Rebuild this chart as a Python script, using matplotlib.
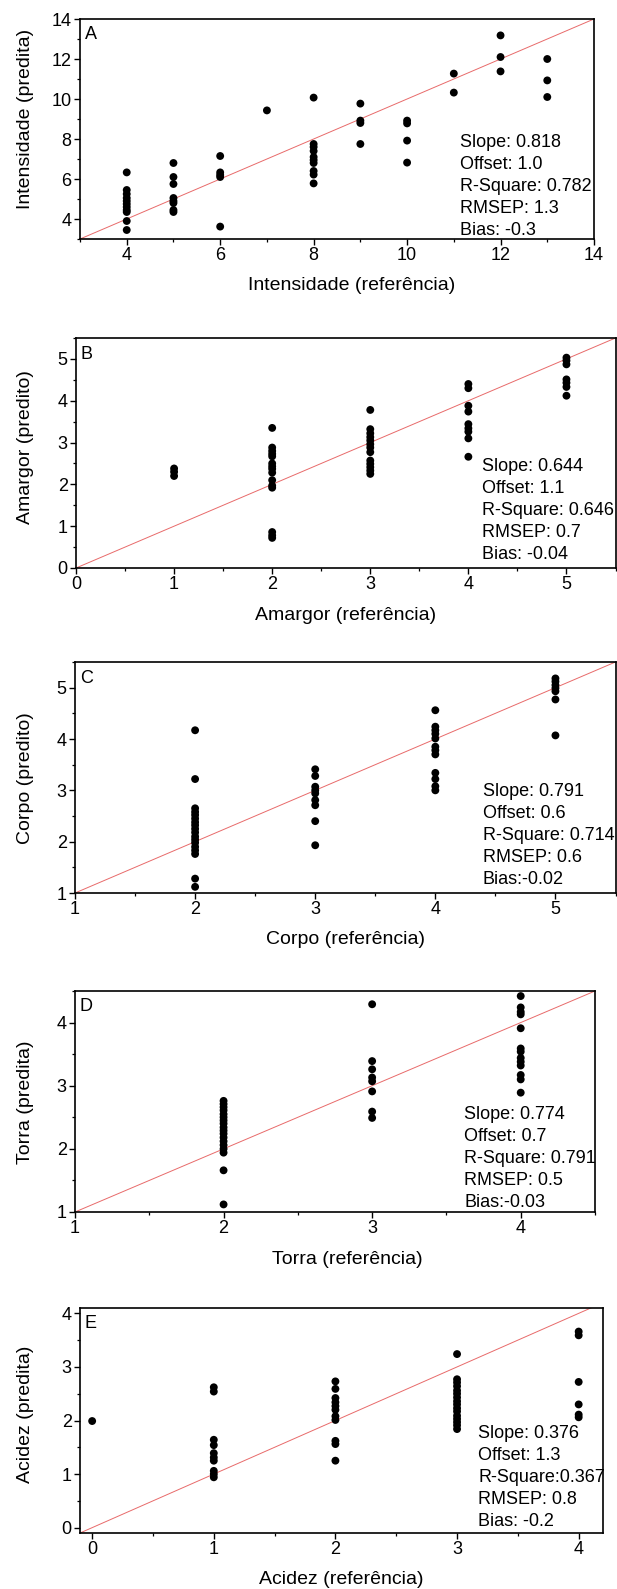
import matplotlib
matplotlib.use('Agg')
import matplotlib.pyplot as plt
from matplotlib.ticker import MultipleLocator

plt.rcParams['font.family'] = ['Liberation Sans', 'DejaVu Sans']

# A - Intensidade
a_levels = [4, 5, 6, 7, 8, 9, 10, 11, 12, 13]
a_pred = [[6.33, 5.45, 5.25, 5.05, 4.9, 4.75, 4.6, 4.45, 4.35, 3.9, 3.45],
          [6.8, 6.1, 5.75, 5.05, 4.9, 4.8, 4.45, 4.35],
          [7.15, 6.33, 6.2, 6.1, 3.62],
          [9.43],
          [10.07, 7.75, 7.6, 7.4, 7.1, 6.95, 6.8, 6.4, 6.22, 5.78],
          [9.77, 8.92, 8.8, 7.75],
          [8.92, 8.78, 7.92, 6.82],
          [11.27, 10.32],
          [13.18, 12.1, 11.38],
          [12.0, 10.93, 10.1]]
a_stats = ['Slope: 0.818', 'Offset: 1.0', 'R-Square: 0.782', 'RMSEP: 1.3', 'Bias: -0.3']

# B - Amargor
b_levels = [1, 2, 3, 4, 5]
b_pred = [[2.38, 2.3, 2.2],
          [3.35, 2.88, 2.8, 2.73, 2.67, 2.5, 2.43, 2.37, 2.28, 2.1, 1.97, 1.92, 0.86, 0.78, 0.72],
          [3.78, 3.32, 3.22, 3.13, 3.05, 2.96, 2.88, 2.77, 2.57, 2.49, 2.41, 2.33, 2.25],
          [4.4, 4.3, 3.88, 3.74, 3.44, 3.34, 3.26, 3.1, 2.66],
          [5.03, 4.96, 4.87, 4.51, 4.43, 4.33, 4.12]]
b_stats = ['Slope: 0.644', 'Offset: 1.1', 'R-Square: 0.646', 'RMSEP: 0.7', 'Bias: -0.04']

# C - Corpo
c_levels = [2, 3, 4, 5]
c_pred = [[4.17, 3.22, 2.65, 2.58, 2.52, 2.45, 2.38, 2.32, 2.25, 2.18, 2.1, 2.04, 1.98, 1.9, 1.83, 1.76, 1.28, 1.12],
          [3.41, 3.28, 3.07, 3.0, 2.94, 2.81, 2.71, 2.4, 1.93],
          [4.56, 4.24, 4.17, 4.1, 4.01, 3.85, 3.78, 3.7, 3.34, 3.22, 3.08, 3.0],
          [5.18, 5.12, 5.05, 4.99, 4.93, 4.77, 4.07]]
c_stats = ['Slope: 0.791', 'Offset: 0.6', 'R-Square: 0.714', 'RMSEP: 0.6', 'Bias:-0.02']

# D - Torra
d_levels = [2, 3, 4]
d_pred = [[2.76, 2.71, 2.66, 2.61, 2.55, 2.5, 2.45, 2.4, 2.34, 2.29, 2.24, 2.18, 2.12, 2.06, 2.0, 1.94, 1.66, 1.12],
          [4.29, 3.39, 3.26, 3.13, 3.07, 2.91, 2.59, 2.49],
          [4.42, 4.24, 4.17, 4.13, 3.91, 3.59, 3.54, 3.44, 3.38, 3.32, 3.17, 3.1, 2.89]]
d_stats = ['Slope: 0.774', 'Offset: 0.7', 'R-Square: 0.791', 'RMSEP: 0.5', 'Bias:-0.03']

# E - Acidez
e_levels = [0, 1, 2, 3, 4]
e_pred = [[1.99],
          [2.62, 2.54, 1.64, 1.54, 1.39, 1.31, 1.25, 1.06, 1.0, 0.94],
          [2.73, 2.59, 2.42, 2.34, 2.27, 2.2, 2.08, 2.01, 1.62, 1.56, 1.25],
          [3.24, 2.77, 2.71, 2.64, 2.56, 2.5, 2.43, 2.36, 2.3, 2.23, 2.17, 2.09, 2.03, 1.97, 1.91, 1.84],
          [3.66, 3.59, 2.72, 2.3, 2.11, 2.06]]
e_stats = ['Slope: 0.376', 'Offset: 1.3', 'R-Square:0.367', 'RMSEP: 0.8', 'Bias: -0.2']

W, H = 617, 1589
fig = plt.figure(figsize=(W / 100, H / 100), dpi=100)

# letter, levels, predictions, stats, x/y labels, limits, major step,
# box in pixels (left, right, top, bottom), stats x, xlabel x, ylabel y
panels = [
    ('A', a_levels, a_pred, a_stats, 'Intensidade (referência)', 'Intensidade (predita)',
     (3, 14), (3, 14), 2, (80, 594, 19, 239), 460, 0.529, 0.545),
    ('B', b_levels, b_pred, b_stats, 'Amargor (referência)', 'Amargor (predito)',
     (0, 5.5), (0, 5.5), 1, (76, 615.5, 338, 568), 482, 0.5, 0.526),
    ('C', c_levels, c_pred, c_stats, 'Corpo (referência)', 'Corpo (predito)',
     (1, 5.5), (1, 5.5), 1, (75, 615.5, 662, 893), 483, 0.5, 0.498),
    ('D', d_levels, d_pred, d_stats, 'Torra (referência)', 'Torra (predita)',
     (1, 4.5), (1, 4.5), 1, (75, 595, 991, 1212), 464, 0.523, 0.498),
    ('E', e_levels, e_pred, e_stats, 'Acidez (referência)', 'Acidez (predita)',
     (-0.1, 4.2), (-0.1, 4.1), 1, (80, 603, 1308, 1533), 478, 0.5, 0.529),
]

for (letter, levels, pred, stats, xlab, ylab, xlim, ylim, step,
     box, stats_x, xlab_x, ylab_y) in panels:
    l, r, t, b = box
    ax = fig.add_axes([l / W, 1 - b / H, (r - l) / W, (b - t) / H])
    xs = [lv for lv, vals in zip(levels, pred) for _ in vals]
    ys = [v for vals in pred for v in vals]
    lo = min(xlim[0], ylim[0])
    hi = max(xlim[1], ylim[1])
    # 1:1 reference line
    ax.plot([lo, hi], [lo, hi], color='#e86a6a', lw=0.7, zorder=1)
    ax.scatter(xs, ys, s=32, color='black', edgecolors='none', zorder=3)
    ax.set_xlim(*xlim)
    ax.set_ylim(*ylim)
    ax.xaxis.set_major_locator(MultipleLocator(step))
    ax.xaxis.set_minor_locator(MultipleLocator(step / 2))
    ax.yaxis.set_major_locator(MultipleLocator(step))
    ax.yaxis.set_minor_locator(MultipleLocator(step / 2))
    ax.tick_params(which='major', direction='out', length=4, width=1.0,
                   labelsize=13, pad=2, colors='black')
    ax.tick_params(which='minor', direction='out', length=2.5, width=0.9)
    for sp in ax.spines.values():
        sp.set_linewidth(1.2)
    w_px, h_px = r - l, b - t
    ax.text(0.009, 0.93, letter, transform=ax.transAxes, ha='left', va='center', fontsize=13)
    first = 0.44
    for i, s in enumerate(stats):
        ax.text((stats_x - l) / w_px, first - i * 22 / h_px, s, transform=ax.transAxes,
                ha='left', va='center', fontsize=13)
    ax.text(xlab_x, -47 / h_px, xlab, transform=ax.transAxes,
            ha='center', va='center', fontsize=14)
    ax.text(-(l - 26) / w_px, ylab_y, ylab, transform=ax.transAxes,
            ha='center', va='center', rotation=90, fontsize=14)

fig.savefig('out.png', dpi=100)
